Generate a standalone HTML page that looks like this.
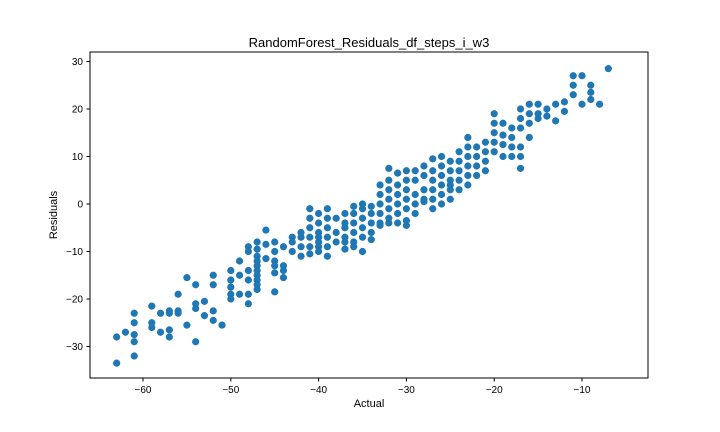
<!DOCTYPE html>
<html><head><meta charset="utf-8"><style>
body{margin:0;background:#fff;}
svg{display:block;font-family:"Liberation Sans","DejaVu Sans",sans-serif;}
</style></head><body>
<svg id="chart" width="720" height="432">
<rect width="720" height="432" fill="#fff"/>
<text x="369" y="47" text-anchor="middle" font-size="13">RandomForest_Residuals_df_steps_i_w3</text>
<g id="marks"></g>
<rect x="90" y="52" width="558" height="326" fill="none" stroke="#000" stroke-width="1"/>
<g id="xticks"></g>
<g id="yticks"></g>
<text x="369" y="407" text-anchor="middle" font-size="11">Actual</text>
<text x="57" y="215" text-anchor="middle" font-size="11" transform="rotate(-90 57 215)">Residuals</text>
</svg>
<script>
const actualValues = [-63,-62,-61,-59,-58,-57,-56,-55,-54,-53,-52,-51,-50,-49,-48,-47,-46,-45,-44,-43,-42,-41,-40,-39,-38,-37,-36,-35,-34,-33,-32,-31,-30,-29,-28,-27,-26,-25,-24,-23,-22,-21,-20,-19,-18,-17,-16,-15,-14,-13,-12,-11,-10,-9,-8,-7];
const residualValues = [
[-28,-33.5],[-27],[-23,-25,-27.5,-29,-32],[-21.5,-25,-26],[-23,-27],[-22.5,-23,-26.5,-28],[-19,-22.5,-23],[-15.5,-25.5],[-17,-21,-22,-29],[-20.5,-23.5],[-15,-17,-22.5,-24.5],[-25.5],
[-14,-16,-17.5,-19,-20],[-12,-15,-19],[-9,-10,-14,-16,-19,-21],[-8,-9.5,-11,-12,-13,-14,-15,-16,-17,-18],[-5.5,-8.5,-11.5],[-8,-10,-12,-13,-14.5,-18.5],[-9,-13,-14,-15.5],[-7,-8,-10],[-6,-7,-9,-11],
[-1,-3,-5,-7,-9,-10.5],[-2,-4,-6,-7,-8,-9,-10],[-1,-3,-5,-7,-9,-11],[-3,-6,-8],[-2,-4,-5,-7,-8,-9.5],[-0.5,-2,-4,-6,-8,-9],[0,-1,-3,-5,-7,-10],[-0.5,-2,-4,-6,-7.5],
[4,2,0,-2,-4,-4.5],[7.5,5,3,1,-1,-3,-4],[6.5,4,2,0,-2,-4],[7,5,3,1,-1,-3.5,-4.5],[7,5,2,0,-2],[8,6,3,1,0.5],[9.5,7,5,3,1,-1],[10,8,6,4,2,0],[9,7,5,3,1,4],[11,9,7,5,3],[14,12,10,8,6,4],[12,10,8,6],[13,11,9,7],
[19,17,15,13,11],[17,14.5,12.5,10],[16,14,12,10],[20,18,16,12,10,7.5],[21,19,17,14],[21,19,18],[20,18.5],[21,17.5],[21.5,19.5],[27,25,23],[27,21],[25,23.5,22],[21],[28.5]
];
const xTickLabels = [-60,-50,-40,-30,-20,-10];
const yTickLabels = [-30,-20,-10,0,10,20,30];
const NS="http://www.w3.org/2000/svg";
function xs(v){return 143+(v+60)*8.78;}
function ys(v){return 204-v*4.75;}
const marks=document.getElementById('marks');
actualValues.forEach((a,i)=>{
  residualValues[i].forEach(r=>{
    const c=document.createElementNS(NS,'circle');
    c.setAttribute('cx',xs(a));c.setAttribute('cy',ys(r));c.setAttribute('r',3.6);c.setAttribute('fill','#1f77b4');
    
    
    marks.appendChild(c);
  });
});
const xg=document.getElementById('xticks');
xTickLabels.forEach(v=>{
  const l=document.createElementNS(NS,'line');
  l.setAttribute('x1',xs(v));l.setAttribute('x2',xs(v));l.setAttribute('y1',378);l.setAttribute('y2',381.5);l.setAttribute('stroke','#000');
  
  
  xg.appendChild(l);
  const t=document.createElementNS(NS,'text');
  t.setAttribute('x',xs(v));t.setAttribute('y',393);t.setAttribute('text-anchor','middle');t.setAttribute('font-size','10');
  t.textContent='\u2212'+Math.abs(v);
  
  
  xg.appendChild(t);
});
const yg=document.getElementById('yticks');
yTickLabels.forEach(v=>{
  const l=document.createElementNS(NS,'line');
  l.setAttribute('x1',86.5);l.setAttribute('x2',90);l.setAttribute('y1',ys(v));l.setAttribute('y2',ys(v));l.setAttribute('stroke','#000');
  
  
  yg.appendChild(l);
  const t=document.createElementNS(NS,'text');
  t.setAttribute('x',83);t.setAttribute('y',ys(v)+3.5);t.setAttribute('text-anchor','end');t.setAttribute('font-size','10');
  t.textContent=(v<0?'\u2212':'')+Math.abs(v);
  
  
  yg.appendChild(t);
});
</script>
</body></html>
